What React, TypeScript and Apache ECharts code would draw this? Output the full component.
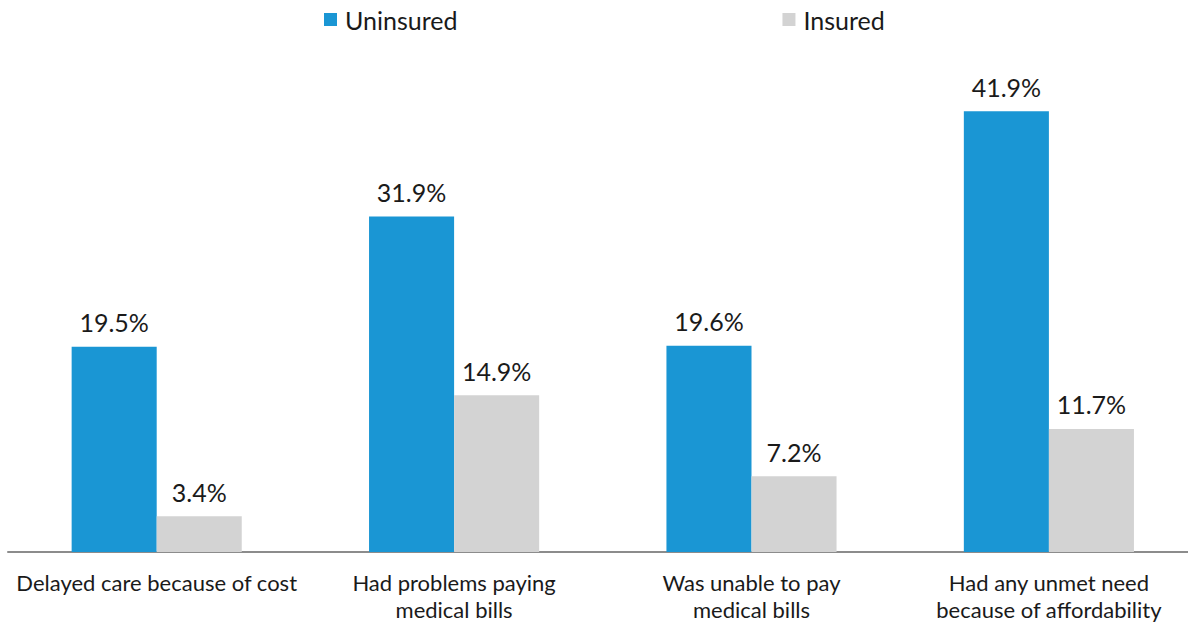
import React, { useEffect, useRef } from "react";
import * as echarts from "echarts";

const categories = [
  "Delayed care because of cost",
  "Had problems paying\nmedical bills",
  "Was unable to pay\nmedical bills",
  "Had any unmet need\nbecause of affordability",
];
const uninsured = [19.5, 31.9, 19.6, 41.9];
const insured = [3.4, 14.9, 7.2, 11.7];

export default function App() {
  const ref = useRef<HTMLDivElement>(null);
  useEffect(() => {
    if (!ref.current) return;
    const chart = echarts.init(ref.current, null, { renderer: "svg" });
    const label = {
      show: true,
      position: "top",
      distance: 12,
      fontFamily: "Lato",
      fontSize: 25,
      color: "#1a1a1a",
      formatter: (p: any) => p.value.toFixed(1) + "%",
    };
    chart.setOption({
      animation: false,
      textStyle: { fontFamily: "Lato" },
      legend: {
        top: 2,
        left: 319,
        itemGap: 325,
        itemWidth: 13,
        itemHeight: 13,
        icon: "rect",
        textStyle: {
          fontFamily: "Lato",
          fontSize: 25,
          color: "#1a1a1a",
          padding: [0, 0, 0, 3],
        },
        data: ["Uninsured", "Insured"],
      },
      grid: { left: 8, right: 2.4, top: 26, bottom: 71 },
      xAxis: {
        type: "category",
        data: categories,
        axisLine: { lineStyle: { color: "#8c8c8c", width: 2 } },
        axisTick: { show: false },
        axisLabel: {
          interval: 0,
          fontFamily: "Lato",
          fontSize: 22,
          color: "#1a1a1a",
          lineHeight: 27,
          margin: 17,
        },
      },
      yAxis: {
        type: "value",
        min: 0,
        max: 50,
        show: false,
        splitLine: { show: false },
      },
      series: [
        {
          name: "Uninsured",
          type: "bar",
          data: uninsured,
          barGap: "0%",
          barCategoryGap: "42.8%",
          itemStyle: { color: "#1a96d4" },
          label,
        },
        {
          name: "Insured",
          type: "bar",
          data: insured,
          itemStyle: { color: "#d3d3d3" },
          label,
        },
      ],
    });
    return () => chart.dispose();
  }, []);
  return (
    <div
      style={{
        position: "absolute",
        left: 0,
        top: 0,
        width: 1188,
        height: 623,
        overflow: "hidden",
      }}
    >
      <div ref={ref} style={{ width: 1200, height: 623 }} />
    </div>
  );
}
